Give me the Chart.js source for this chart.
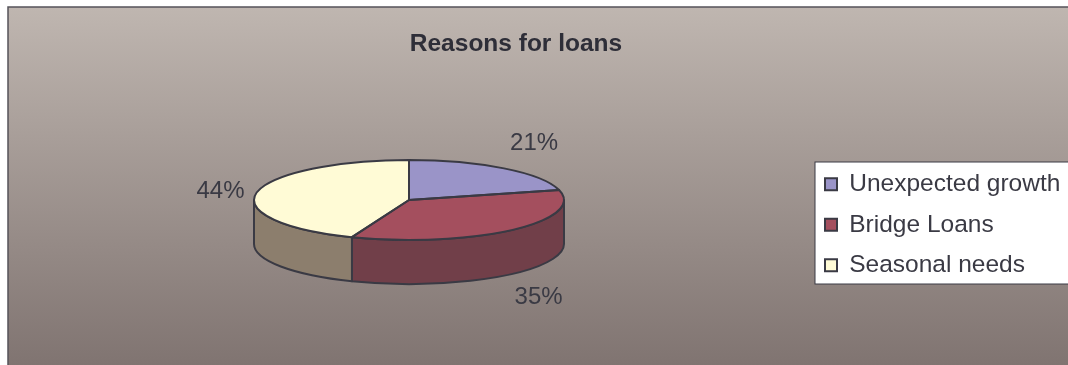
<!DOCTYPE html>
<html>
<head>
<meta charset="utf-8">
<title>Reasons for loans</title>
<style>
  html, body { margin: 0; padding: 0; background: #fff; }
  canvas { display: block; }
</style>
<script src="https://cdn.jsdelivr.net/npm/chart.js@4/dist/chart.umd.js"></script>
</head>
<body>
<canvas id="loans" width="1068" height="365"></canvas>
<script>
const chartTitle = 'Reasons for loans';
const categories = ['Unexpected growth', 'Bridge Loans', 'Seasonal needs'];
const shares = [21, 35, 44];
const topColors = ['#9a94c8', '#a44f5e', '#fffbd6'];
const wallColors = ['#615c80', '#713f49', '#8c7e6d'];

const INK = '#3a3a44';
const FONT = '"Liberation Sans", Arial, sans-serif';

// the flattened pie: ellipse centre, radii and height of the side wall
const PIE = { cx: 409, cy: 200, rx: 155, ry: 40, depth: 44 };
const FRAME = { left: 8, top: 7 };
const LEGEND_BOX = { left: 815, top: 162, bottom: 284 };
// small per-slice shifts for the percentage labels
const LABEL_NUDGE = [[5, -1], [0, 0], [4, 5]];

// maps the round pie that Chart.js lays out onto the flattened ellipse
function flatten(ctx, arc) {
    ctx.translate(PIE.cx, PIE.cy);
    ctx.scale(PIE.rx / arc.outerRadius, PIE.ry / arc.outerRadius);
    ctx.translate(-arc.x, -arc.y);
}

function outline(ctx, width) {
    ctx.strokeStyle = INK;
    ctx.lineWidth = width;
    ctx.lineJoin = 'round';
    ctx.stroke();
}

const backdrop = {
    id: 'backdrop',
    beforeDraw(chart) {
        const { ctx, width, height } = chart;
        const fill = ctx.createLinearGradient(0, FRAME.top, 0, height);
        fill.addColorStop(0, '#bfb6b0');
        fill.addColorStop(1, '#807471');
        ctx.save();
        ctx.fillStyle = fill;
        ctx.fillRect(FRAME.left, FRAME.top, width, height);
        ctx.beginPath();
        ctx.moveTo(FRAME.left, height);
        ctx.lineTo(FRAME.left, FRAME.top);
        ctx.lineTo(width, FRAME.top);
        ctx.strokeStyle = '#55535a';
        ctx.lineWidth = 1.5;
        ctx.stroke();
        // white panel behind the legend, runs off the right edge
        ctx.fillStyle = '#fff';
        ctx.strokeStyle = INK;
        ctx.lineWidth = 1;
        ctx.fillRect(LEGEND_BOX.left, LEGEND_BOX.top, width, LEGEND_BOX.bottom - LEGEND_BOX.top);
        ctx.strokeRect(LEGEND_BOX.left, LEGEND_BOX.top, width, LEGEND_BOX.bottom - LEGEND_BOX.top);
        ctx.restore();
    }
};

const pie3d = {
    id: 'pie3d',
    afterLayout(chart) {
        // title and legend sit off their default slots
        chart.titleBlock.left = 0;
        chart.titleBlock.right = 1032;
        chart.titleBlock.top = 30;
        chart.legend.left = LEGEND_BOX.left - 6;
        chart.legend.top = LEGEND_BOX.top - 6;
    },
    beforeDatasetsDraw(chart) {
        const { ctx } = chart;
        const arcs = chart.getDatasetMeta(0).data;

        // side wall: only the front half of the rim (0..PI) can be seen
        arcs.forEach((arc, i) => {
            const from = Math.max(arc.startAngle, 0);
            const to = Math.min(arc.endAngle, Math.PI);
            if (to <= from) return;
            ctx.save();
            flatten(ctx, arc);
            const r = arc.outerRadius;
            const drop = PIE.depth * r / PIE.ry;
            ctx.beginPath();
            ctx.arc(arc.x, arc.y, r, from, to);
            ctx.lineTo(arc.x + r * Math.cos(to), arc.y + r * Math.sin(to) + drop);
            ctx.arc(arc.x, arc.y + drop, r, to, from, true);
            ctx.closePath();
            ctx.setTransform(1, 0, 0, 1, 0, 0);
            ctx.fillStyle = wallColors[i];
            ctx.fill();
            outline(ctx, 2);
            ctx.restore();
        });

        ctx.save();
        flatten(ctx, arcs[0]);
    },
    afterDatasetsDraw(chart) {
        const { ctx } = chart;
        ctx.restore();
        const arcs = chart.getDatasetMeta(0).data;

        // outlines are stroked unscaled so the pen stays even all round
        arcs.forEach(arc => {
            ctx.save();
            flatten(ctx, arc);
            ctx.beginPath();
            ctx.moveTo(arc.x, arc.y);
            ctx.arc(arc.x, arc.y, arc.outerRadius, arc.startAngle, arc.endAngle);
            ctx.closePath();
            ctx.setTransform(1, 0, 0, 1, 0, 0);
            outline(ctx, 2);
            ctx.restore();
        });

        // percentage labels just outside the rim
        const total = shares.reduce((a, b) => a + b, 0);
        ctx.save();
        ctx.font = '24px ' + FONT;
        ctx.fillStyle = INK;
        ctx.textAlign = 'center';
        ctx.textBaseline = 'middle';
        arcs.forEach((arc, i) => {
            const mid = (arc.startAngle + arc.endAngle) / 2;
            const sin = Math.sin(mid);
            const x = PIE.cx + Math.cos(mid) * (PIE.rx + 41) + LABEL_NUDGE[i][0];
            const y = PIE.cy + sin * (PIE.ry + 31) + (sin > 0 ? PIE.depth : 0) + LABEL_NUDGE[i][1];
            ctx.fillText(Math.round(shares[i] / total * 100) + '%', x, y);
        });
        ctx.restore();
    }
};

new Chart(document.getElementById('loans'), {
    type: 'pie',
    data: {
        labels: categories,
        datasets: [{
            data: shares,
            backgroundColor: topColors,
            borderWidth: 0
        }]
    },
    options: {
        responsive: false,
        animation: false,
        events: [],
        plugins: {
            tooltip: { enabled: false },
            title: {
                display: true,
                text: chartTitle,
                color: '#2e2e38',
                font: { family: FONT, size: 24.5, weight: 'bold' },
                padding: 0
            },
            legend: {
                position: 'right',
                align: 'start',
                labels: {
                    color: INK,
                    font: { family: FONT, size: 24.5 },
                    boxWidth: 12,
                    boxHeight: 12,
                    padding: 16,
                    generateLabels(chart) {
                        return Chart.overrides.pie.plugins.legend.labels.generateLabels(chart).map(item => {
                            item.strokeStyle = INK;
                            item.lineWidth = 2;
                            return item;
                        });
                    }
                }
            }
        }
    },
    plugins: [backdrop, pie3d]
});
</script>
</body>
</html>
